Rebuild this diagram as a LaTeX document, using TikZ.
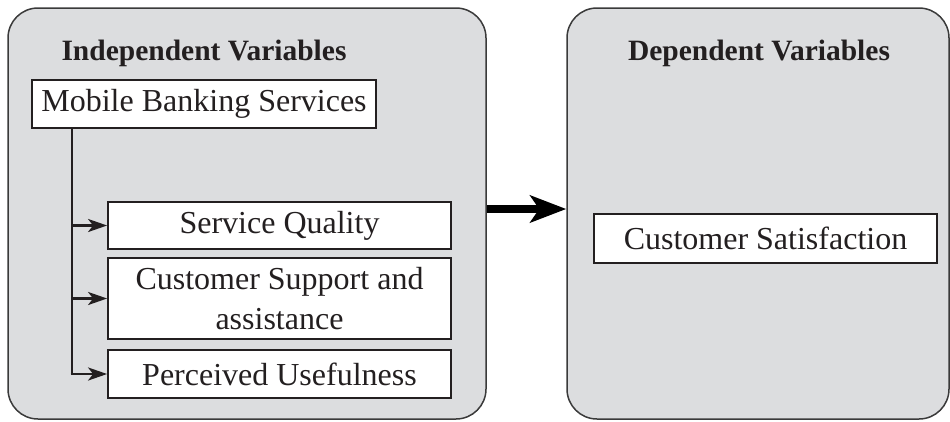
\documentclass[tikz,border=0pt]{standalone}
\usepackage{fontspec}
\setmainfont{Liberation Serif}
\usetikzlibrary{arrows.meta,calc}
\definecolor{panelgray}{HTML}{DCDDDF}
\definecolor{edgegray}{HTML}{3A3A3A}
\definecolor{inkdark}{HTML}{231F20}
\begin{document}
\begin{tikzpicture}[x=1pt,y=-1pt,
  panel/.style={draw=edgegray,line width=1.5pt,fill=panelgray,rounded corners=30pt,inner sep=0pt},
  varbox/.style={draw=inkdark,line width=1.8pt,fill=white,inner sep=0pt,align=center,
    font=\fontsize{32}{40}\selectfont,text=inkdark},
  heading/.style={font=\fontsize{29.5}{34}\selectfont\bfseries,text=inkdark,inner sep=0pt},
  branch/.style={draw=inkdark,line width=2.6pt,-{Stealth[length=19pt,width=13pt,inset=5pt]}},
  mainarrow/.style={draw=black,line width=7.5pt,-{Stealth[length=36pt,width=27pt,inset=9pt]}}]
\useasboundingbox (0,0) rectangle (950,421);

% grey panels
\node[panel,minimum width=478pt,minimum height=411pt] (left) at (247,213.5) {};
\node[panel,minimum width=382pt,minimum height=411pt] (right) at (758,213.5) {};

% headings
\node[heading] (indep) at (204,53) {Independent Variables};
\node[heading] (dep) at (759,53) {Dependent Variables};

% independent variable boxes
\node[varbox,minimum width=344pt,minimum height=48pt] (mbs) at (204,104) {Mobile Banking Services};
\node[varbox,minimum width=343pt,minimum height=47pt] (sq) at (279.5,225.5) {Service Quality};
\node[varbox,minimum width=343pt,minimum height=81pt] (csa) at (279.5,298.5) {Customer Support and\\assistance};
\node[varbox,minimum width=343pt,minimum height=48pt] (pu) at (279.5,374) {Perceived Usefulness};

% dependent variable box
\node[varbox,minimum width=343pt,minimum height=49pt] (cs) at (765.5,238.5) {Customer Satisfaction};

% branching connectors
\coordinate (trunk) at (72,0);
\draw[draw=inkdark,line width=2.6pt] (trunk |- mbs.south) -- ([yshift=1.3pt]trunk |- pu.west);
\draw[branch] (trunk |- sq.west) -- (sq.west);
\draw[branch] (trunk |- csa.west) -- (csa.west);
\draw[branch] ([xshift=-1.3pt]trunk |- pu.west) -- (pu.west);

% main relation arrow
\coordinate (arrowy) at (0,209);
\draw[mainarrow] (left.east |- arrowy) -- (right.west |- arrowy);
\end{tikzpicture}
\end{document}
